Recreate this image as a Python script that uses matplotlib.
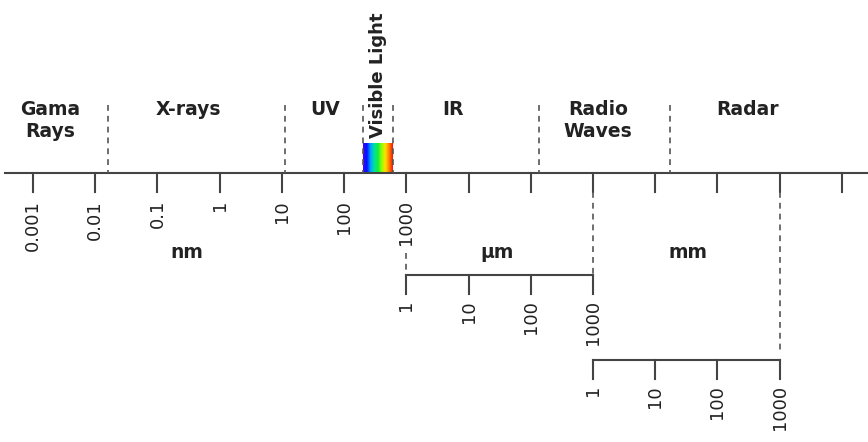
import numpy as np
import matplotlib
matplotlib.use('Agg')
import matplotlib.pyplot as plt
from matplotlib.colors import LinearSegmentedColormap

# wavelength positions are log10(nm)
main_ticks = list(range(-3, 11))
nm_labels = ['0.001', '0.01', '0.1', '1', '10', '100', '1000']
sub_labels = ['1', '10', '100', '1000']
um_start = 3   # 1 um = 1000 nm
mm_start = 6   # 1 mm = 1000 um

band_names = ['Gama\nRays', 'X-rays', 'UV', 'IR', 'Radio\nWaves', 'Radar']
band_centers = [-2.73, -0.51, 1.69, 3.75, 6.08, 8.49]
band_edges = [-1.8, 1.05, 2.3, 2.78, 5.13, 7.24]
visible = (2.3, 2.78)

unit_names = ['nm', 'µm', 'mm']
unit_centers = [-0.53, 4.46, 7.53]

spectrum_colors = ['#4a00ff', '#0010ff', '#00a0ff', '#00e0a0', '#10f040',
                   '#90ff00', '#ffe000', '#ff8000', '#ff1000']

line_c = '#444444'
text_c = '#222222'

fig = plt.figure(figsize=(8.68, 4.42), dpi=100)
ax = fig.add_axes([0, 0, 1, 1])
ax.set_xlim(-3.53, 10.42)
ax.set_ylim(442, 0)
ax.axis('off')

# row levels (pixels from top)
y_main, y_um, y_mm = 173, 275, 360
tick_len = 19

# main axis
ax.plot([-3.45, 10.42], [y_main, y_main], color=line_c, lw=1.5)
for t in main_ticks:
    ax.plot([t, t], [y_main, y_main + tick_len], color=line_c, lw=1.5)
for t, lab in zip(main_ticks, nm_labels):
    ax.text(t, y_main + 27, lab, rotation=90, ha='center', va='top',
            fontsize=13, color=text_c)

# visible spectrum strip
cmap = LinearSegmentedColormap.from_list('vis', spectrum_colors)
ax.imshow(np.linspace(0, 1, 200)[None, :], cmap=cmap, aspect='auto',
          extent=[visible[0], visible[1], y_main, y_main - 30], zorder=1)

# band boundaries
for e in band_edges:
    ax.plot([e, e], [105, y_main], color='#555555', lw=1.2,
            ls=(0, (3.5, 3)), zorder=3)

for name, c in zip(band_names, band_centers):
    ax.text(c, 100, name, ha='center', va='top', fontsize=13.5,
            fontweight='bold', color=text_c, linespacing=1.2)

ax.text(sum(visible) / 2, 138, 'Visible Light', rotation=90, ha='center',
        va='bottom', fontsize=13, fontweight='bold', color=text_c)

for name, c in zip(unit_names, unit_centers):
    ax.text(c, 252, name, ha='center', va='center', fontsize=13.5,
            fontweight='bold', color=text_c)

# sub-axes for um and mm
for start, y0 in [(um_start, y_um), (mm_start, y_mm)]:
    pos = [start + i for i in range(len(sub_labels))]
    ax.plot([pos[0], pos[-1]], [y0, y0], color=line_c, lw=1.5)
    for p, lab in zip(pos, sub_labels):
        ax.plot([p, p], [y0, y0 + tick_len], color=line_c, lw=1.5)
        ax.text(p, y0 + 25, lab, rotation=90, ha='center', va='top',
                fontsize=13, color=text_c)

# dashed connectors
dash = dict(color='#555555', lw=1.2, ls=(0, (3.5, 3)))
ax.plot([um_start, um_start], [253, y_um], **dash)
ax.plot([mm_start, mm_start], [y_main + tick_len, y_um], **dash)
ax.plot([mm_start + 3, mm_start + 3], [y_main + tick_len, y_mm - 8], **dash)

fig.savefig('out.png', dpi=100, facecolor='white')
